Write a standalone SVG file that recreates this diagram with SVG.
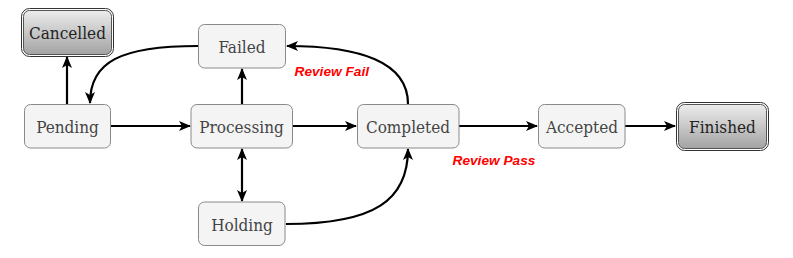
<svg xmlns="http://www.w3.org/2000/svg" width="793" height="258" viewBox="0 0 793 258">
<style>
.node rect.box{fill:#f4f4f4;stroke:#8a8a8a;stroke-width:1}
.final rect.outer{fill:#fff;stroke:#333;stroke-width:1}
.final rect.inner{fill:url(#grad);stroke:#555;stroke-width:1}
text.lbl{font-family:"DejaVu Serif Condensed","DejaVu Serif",serif;font-stretch:condensed;font-size:17px;fill:#444;text-anchor:middle}
.final text.lbl{fill:#222}
.edge{fill:none;stroke:#000;stroke-width:2.2}
text.el{font-family:"Liberation Sans",Arial,sans-serif;font-weight:bold;font-style:italic;font-size:13.7px;fill:#ff0000}
</style>
<defs>
<linearGradient id="grad" x1="0" y1="0" x2="0" y2="1">
<stop offset="0" stop-color="#ececec"/>
<stop offset="1" stop-color="#a3a3a3"/>
</linearGradient>
<marker id="arr" viewBox="0 0 12 12" refX="11" refY="6" markerWidth="12" markerHeight="12" markerUnits="userSpaceOnUse" orient="auto-start-reverse">
<path d="M0,1 L12,6 L0,11 L3,6 Z" fill="#000"/>
</marker>
</defs>
<g id="connectors">
<line class="edge" x1="67" y1="104" x2="67" y2="57" marker-end="url(#arr)"/>
<line class="edge" x1="111" y1="126" x2="190" y2="126" marker-end="url(#arr)"/>
<line class="edge" x1="242" y1="104" x2="242" y2="69" marker-end="url(#arr)"/>
<line class="edge" x1="242" y1="149" x2="242" y2="201" marker-start="url(#arr)" marker-end="url(#arr)"/>
<line class="edge" x1="293" y1="126" x2="356" y2="126" marker-end="url(#arr)"/>
<line class="edge" x1="459" y1="126" x2="537" y2="126" marker-end="url(#arr)"/>
<line class="edge" x1="625" y1="126" x2="675" y2="126" marker-end="url(#arr)"/>
<path class="edge" d="M198,46 C120,46 90,62 90,103" marker-end="url(#arr)"/>
<path class="edge" d="M408,104 C408,62 360,46 287,46" marker-end="url(#arr)"/>
<path class="edge" d="M286,224 C375,224 408,200 408,149" marker-end="url(#arr)"/>
<text class="el" x="294.5" y="76">Review Fail</text>
<text class="el" x="452.5" y="165">Review Pass</text>
</g>
<g id="cancelled" class="final">
<rect class="outer" x="21.5" y="8.5" width="92" height="48" rx="8"/>
<rect class="inner" x="23.5" y="10.5" width="88" height="44" rx="6"/>
<text class="lbl" x="67.5" y="39">Cancelled</text>
</g>
<g id="pending" class="node">
<rect class="box" x="24.5" y="104.5" width="86" height="43.5" rx="6"/>
<text class="lbl" x="67.5" y="133">Pending</text>
</g>
<g id="failed" class="node">
<rect class="box" x="198.5" y="24.5" width="87" height="43.5" rx="6"/>
<text class="lbl" x="242" y="53">Failed</text>
</g>
<g id="processing" class="node">
<rect class="box" x="191" y="104.5" width="101.5" height="43.5" rx="6"/>
<text class="lbl" x="241.5" y="133">Processing</text>
</g>
<g id="holding" class="node">
<rect class="box" x="198.5" y="202" width="86.5" height="43.5" rx="6"/>
<text class="lbl" x="242" y="230.5">Holding</text>
</g>
<g id="completed" class="node">
<rect class="box" x="357.5" y="104.5" width="101.5" height="43.5" rx="6"/>
<text class="lbl" x="408" y="133">Completed</text>
</g>
<g id="accepted" class="node">
<rect class="box" x="538.5" y="104.5" width="86.5" height="43.5" rx="6"/>
<text class="lbl" x="582" y="133">Accepted</text>
</g>
<g id="finished" class="final">
<rect class="outer" x="676.5" y="102.5" width="92" height="48" rx="8"/>
<rect class="inner" x="678.5" y="104.5" width="88" height="44" rx="6"/>
<text class="lbl" x="722.5" y="133">Finished</text>
</g>
</svg>
